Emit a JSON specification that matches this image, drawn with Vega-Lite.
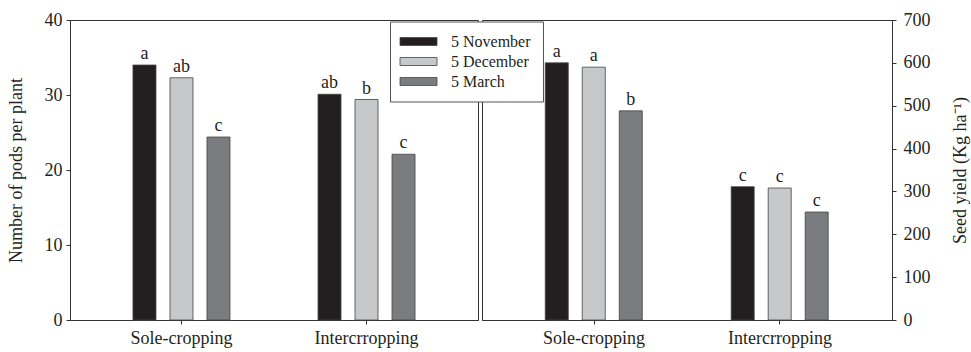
{
  "$schema": "https://vega.github.io/schema/vega-lite/v6.json",
  "background": "white",
  "padding": {"left": 6, "top": 10, "right": 2, "bottom": 5},
  "bounds": "flush",
  "spacing": 4,
  "datasets": {
    "pods": [
      {"crop": "Sole-cropping", "date": "5 November", "value": 34.0, "letter": "a"},
      {"crop": "Sole-cropping", "date": "5 December", "value": 32.3, "letter": "ab"},
      {"crop": "Sole-cropping", "date": "5 March", "value": 24.4, "letter": "c"},
      {"crop": "Intercrropping", "date": "5 November", "value": 30.1, "letter": "ab"},
      {"crop": "Intercrropping", "date": "5 December", "value": 29.4, "letter": "b"},
      {"crop": "Intercrropping", "date": "5 March", "value": 22.1, "letter": "c"}
    ],
    "yield": [
      {"crop": "Sole-cropping", "date": "5 November", "value": 600, "letter": "a"},
      {"crop": "Sole-cropping", "date": "5 December", "value": 590, "letter": "a"},
      {"crop": "Sole-cropping", "date": "5 March", "value": 488, "letter": "b"},
      {"crop": "Intercrropping", "date": "5 November", "value": 311, "letter": "c"},
      {"crop": "Intercrropping", "date": "5 December", "value": 308, "letter": "c"},
      {"crop": "Intercrropping", "date": "5 March", "value": 252, "letter": "c"}
    ]
  },
  "config": {
    "font": "Liberation Serif",
    "view": {"stroke": "#333", "strokeWidth": 1},
    "axis": {
      "labelFont": "Liberation Serif", "labelFontSize": 18, "labelColor": "#231f20",
      "titleFont": "Liberation Serif", "titleFontSize": 18, "titleFontWeight": "normal", "titleColor": "#231f20",
      "domainColor": "#333", "tickColor": "#333", "grid": false, "tickSize": 4, "labelPadding": 4
    },
    "legend": {
      "labelFont": "Liberation Serif", "labelFontSize": 16, "labelColor": "#231f20",
      "strokeColor": "#555", "fillColor": "white", "padding": 12
    }
  },
  "hconcat": [
    {
      "width": 408, "height": 300,
      "data": {"name": "pods"},
      "encoding": {
        "x": {"field": "crop", "type": "nominal", "sort": ["Sole-cropping", "Intercrropping"],
              "scale": {"paddingInner": 0.4, "paddingOuter": 0.3025},
              "axis": {"title": null, "labelAngle": 0, "labelPadding": 5}},
        "xOffset": {"field": "date", "type": "nominal", "sort": ["5 November", "5 December", "5 March"],
                    "scale": {"paddingInner": 0.378, "paddingOuter": 0.189}},
        "y": {"field": "value", "type": "quantitative", "scale": {"domain": [0, 40]},
              "axis": {"title": "Number of pods per plant", "values": [0, 10, 20, 30, 40], "titlePadding": 19}}
      },
      "layer": [
        {
          "mark": {"type": "bar", "stroke": "#444", "strokeWidth": 0.8},
          "encoding": {
            "color": {"field": "date", "type": "nominal",
                      "scale": {"domain": ["5 November", "5 December", "5 March"], "range": ["#231f20", "#c7c8ca", "#7b7c7f"]},
                      "legend": {"title": null, "orient": "none", "legendX": 320, "legendY": 1.5,
                                 "symbolType": "M-2,-0.8H5.4V0.8H-2Z", "symbolSize": 100,
                                 "symbolStrokeColor": "#444", "symbolStrokeWidth": 0.8, "labelOffset": 33, "rowPadding": 4}}
          }
        },
        {
          "mark": {"type": "text", "baseline": "alphabetic", "dy": -6, "fontSize": 18, "color": "#231f20", "font": "Liberation Serif"},
          "encoding": {"text": {"field": "letter"}}
        }
      ]
    },
    {
      "width": 410, "height": 300,
      "data": {"name": "yield"},
      "encoding": {
        "x": {"field": "crop", "type": "nominal", "sort": ["Sole-cropping", "Intercrropping"],
              "scale": {"paddingInner": 0.4, "paddingOuter": 0.3025},
              "axis": {"title": null, "labelAngle": 0, "labelPadding": 5}},
        "xOffset": {"field": "date", "type": "nominal", "sort": ["5 November", "5 December", "5 March"],
                    "scale": {"paddingInner": 0.378, "paddingOuter": 0.189}},
        "y": {"field": "value", "type": "quantitative", "scale": {"domain": [0, 700]},
              "axis": {"title": "Seed yield (Kg ha⁻¹)", "orient": "right", "values": [0, 100, 200, 300, 400, 500, 600, 700],
                       "titleAngle": 270, "titleBaseline": "top", "titlePadding": 21, "labelPadding": 7}}
      },
      "layer": [
        {
          "mark": {"type": "bar", "stroke": "#444", "strokeWidth": 0.8},
          "encoding": {
            "color": {"field": "date", "type": "nominal",
                      "scale": {"domain": ["5 November", "5 December", "5 March"], "range": ["#231f20", "#c7c8ca", "#7b7c7f"]}}
          }
        },
        {
          "mark": {"type": "text", "baseline": "alphabetic", "dy": -6, "fontSize": 18, "color": "#231f20", "font": "Liberation Serif"},
          "encoding": {"text": {"field": "letter"}}
        }
      ]
    }
  ],
  "resolve": {"scale": {"color": "shared"}}
}
